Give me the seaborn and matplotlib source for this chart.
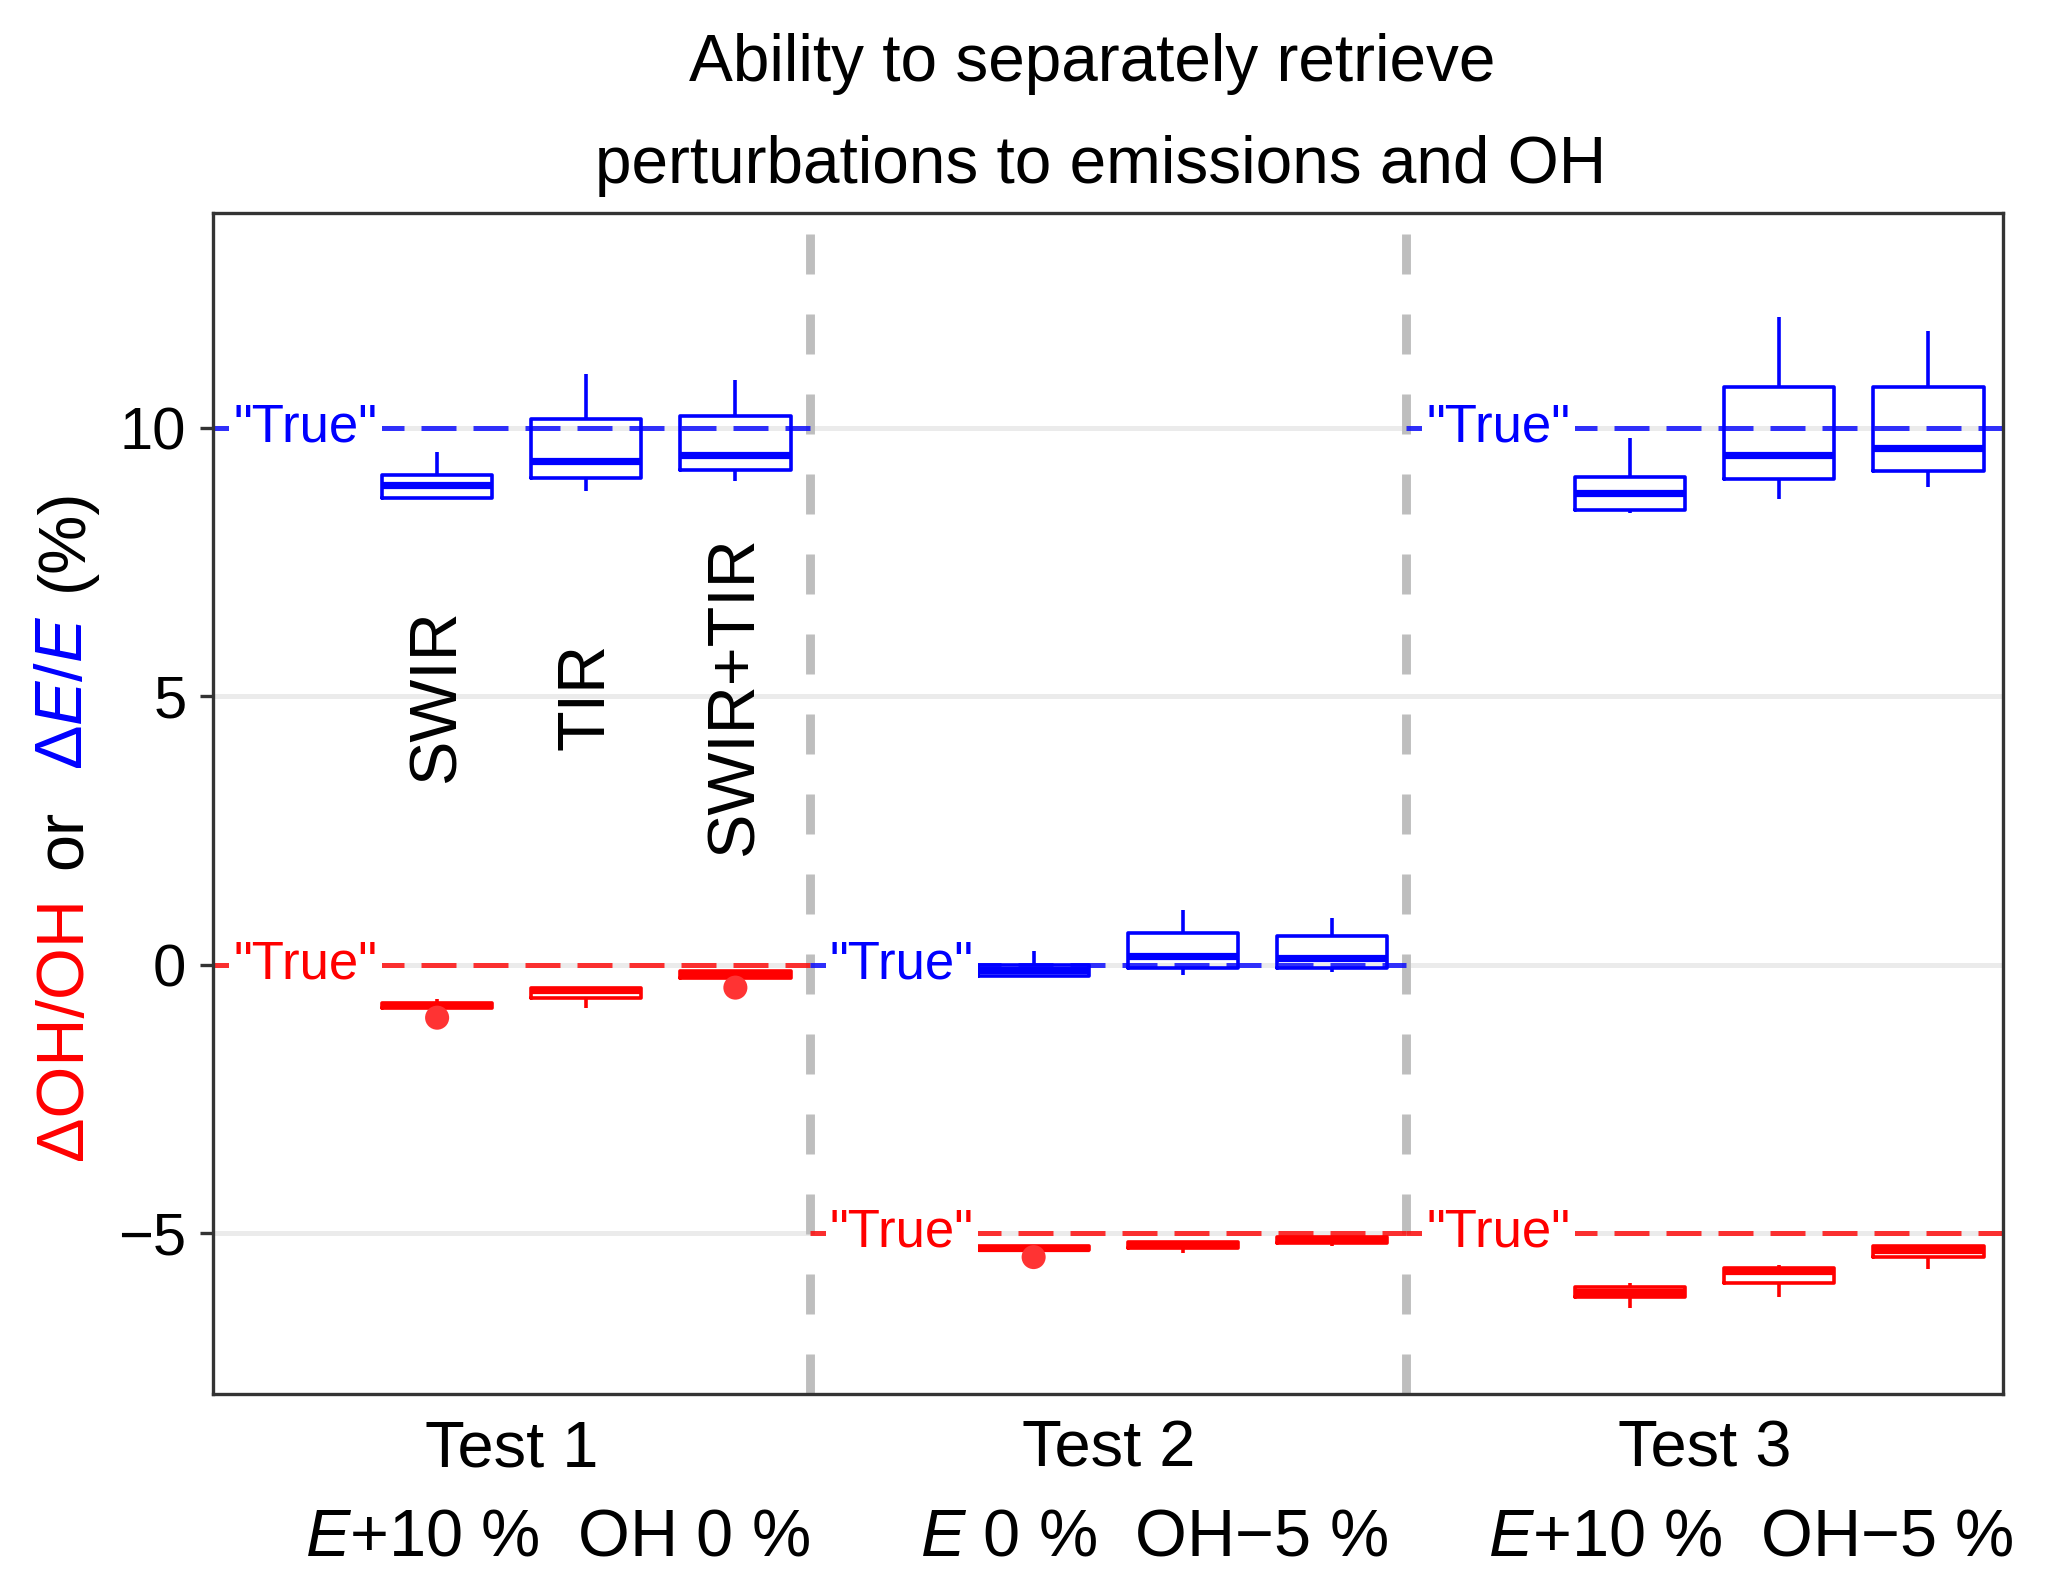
import numpy as np
import pandas as pd
import matplotlib
matplotlib.use("Agg")
import matplotlib.pyplot as plt
import seaborn as sns

# x slots: each test spans 4 slots, the first one is kept for the "True" label
positions = [1.5, 2.5, 3.5, 5.5, 6.5, 7.5, 9.5, 10.5, 11.5]
methods = ["SWIR", "TIR", "SWIR+TIR"]
test_ticks = [2, 6, 10]
test_labels = ["Test 1", "Test 2", "Test 3"]
test_conditions = ["$E$+10 %  OH 0 %", "$E$ 0 %  OH\u22125 %", "$E$+10 %  OH\u22125 %"]
group_starts = [0, 4, 8]
true_e = [10, 0, 10]
true_oh = [0, -5, -5]

# dE/E (%) box summaries
e_low = [8.68, 8.83, 9.01, -0.23, -0.19, -0.14, 8.42, 8.68, 8.89]
e_q1 = [8.70, 9.06, 9.21, -0.22, -0.06, -0.06, 8.46, 9.05, 9.19]
e_med = [8.93, 9.38, 9.49, -0.11, 0.16, 0.12, 8.79, 9.50, 9.62]
e_q3 = [9.12, 10.17, 10.22, 0.00, 0.59, 0.53, 9.09, 10.76, 10.76]
e_high = [9.55, 11.01, 10.89, 0.25, 1.02, 0.87, 9.81, 12.07, 11.80]

# dOH/OH (%) box summaries
oh_low = [-0.82, -0.81, -0.34, -5.33, -5.37, -5.24, -6.39, -6.19, -5.68]
oh_q1 = [-0.81, -0.62, -0.26, -5.32, -5.29, -5.18, -6.19, -5.94, -5.45]
oh_med = [-0.76, -0.48, -0.19, -5.28, -5.22, -5.12, -6.10, -5.71, -5.32]
oh_q3 = [-0.71, -0.43, -0.12, -5.24, -5.17, -5.08, -6.01, -5.65, -5.24]
oh_high = [-0.64, -0.43, -0.12, -5.22, -5.17, -5.06, -5.93, -5.59, -5.24]
oh_outlier_pos = [1.5, 3.5, 5.5]
oh_outlier_val = [-0.99, -0.43, -5.45]

BLUE = "#0000FF"
RED = "#FF0000"


def five_point(low, q1, med, q3, high):
    rows = []
    for i, p in enumerate(positions):
        for v in (low[i], q1[i], med[i], q3[i], high[i]):
            rows.append({"pos": p, "value": v})
    return pd.DataFrame(rows)


e_df = five_point(e_low, e_q1, e_med, e_q3, e_high)
oh_df = five_point(oh_low, oh_q1, oh_med, oh_q3, oh_high)

sns.set_theme(style="white")
plt.rcParams["font.family"] = ["Liberation Sans", "DejaVu Sans"]
plt.rcParams["text.color"] = "black"
plt.rcParams["mathtext.fontset"] = "custom"
plt.rcParams["mathtext.rm"] = "Liberation Sans"
plt.rcParams["mathtext.it"] = "Liberation Sans:italic"

fig = plt.figure(figsize=(10.33, 7.95), dpi=200)
ax = fig.add_axes([0.1033, 0.1233, 0.8662, 0.7427])

ax.set_axisbelow(True)
ax.yaxis.grid(True, color="#EBEBEB", linewidth=1.8)
ax.xaxis.grid(False)

for x in group_starts[1:]:
    ax.axvline(x, color="#BEBEBE", linewidth=3.2, linestyle=(0, (4.5, 4.5)), zorder=1.5)

# "True" reference lines
dash = (0, (7, 3.4))
for g, ye, yo in zip(group_starts, true_e, true_oh):
    ax.hlines(ye, g, g + 4, colors=BLUE, linewidth=1.8, linestyles=dash, alpha=0.8, zorder=1.6)
    ax.hlines(yo, g, g + 4, colors=RED, linewidth=1.8, linestyles=dash, alpha=0.8, zorder=1.6)

box_kw = dict(x="pos", y="value", native_scale=True, orient="x", width=0.74, fill=False,
              linewidth=1.3, whis=np.inf, showfliers=False,
              medianprops={"linewidth": 2.6}, capprops={"visible": False}, ax=ax)
sns.boxplot(data=e_df, color=BLUE, **box_kw)
sns.boxplot(data=oh_df, color=RED, **box_kw)
sns.scatterplot(x=oh_outlier_pos, y=oh_outlier_val, color="#FF3333", s=75,
                edgecolor="none", ax=ax, zorder=3)

for g, ye, yo in zip(group_starts, true_e, true_oh):
    for y, c in ((ye, BLUE), (yo, RED)):
        ax.text(g + 1.10, y, '"True"', color=c, fontsize=19, ha="right", va="center",
                bbox=dict(facecolor="white", edgecolor="none", pad=1.5), zorder=2.5)

for p, m in zip(positions[:3], methods):
    ax.text(p, 5, m, rotation=90, ha="center", va="center", fontsize=24, color="black")

ax.set_xlim(0, 12)
ax.set_ylim(-8.0, 14.0)
ax.set_yticks([-5, 0, 5, 10])
ax.set_yticklabels(["\u22125", "0", "5", "10"])
ax.set_xticks(test_ticks)
ax.set_xticklabels(test_labels)
ax.tick_params(axis="y", labelsize=21.5, length=4.7, width=1.2, color="#333333",
               pad=5, labelcolor="black", left=True)
ax.tick_params(axis="x", labelsize=23.4, length=0, pad=9.3, labelcolor="black")
ax.set_xlabel("")
ax.set_ylabel("")
for s in ax.spines.values():
    s.set_color("#333333")
    s.set_linewidth(1.2)

for t, cond in zip(test_ticks, test_conditions):
    ax.text(t + 0.31, -0.1368, cond, transform=ax.get_xaxis_transform(), ha="center",
            va="baseline", fontsize=24, color="black")

ax.set_title("Ability to separately retrieve \nperturbations to emissions and OH",
             fontsize=23.7, linespacing=1.82, pad=11, color="black", x=0.496)

# multi-coloured y label, built bottom to top
kw = dict(rotation=90, ha="center", va="bottom", fontsize=24)
t1 = fig.text(0.0315, 0.2704, "\u0394OH/OH", color=RED, **kw)
t2 = ax.annotate("or", xy=(0.5, 1), xycoords=t1, xytext=(0, 10), textcoords="offset points",
                 color="black", **kw)
t3 = ax.annotate("\u0394$E$/$E$", xy=(0.5, 1), xycoords=t2, xytext=(0, 14.4),
                 textcoords="offset points", color=BLUE, **kw)
ax.annotate("(%)", xy=(0.5, 1), xycoords=t3, xytext=(0, 9), textcoords="offset points",
            color="black", **kw)

fig.savefig("out.png", dpi=200)
